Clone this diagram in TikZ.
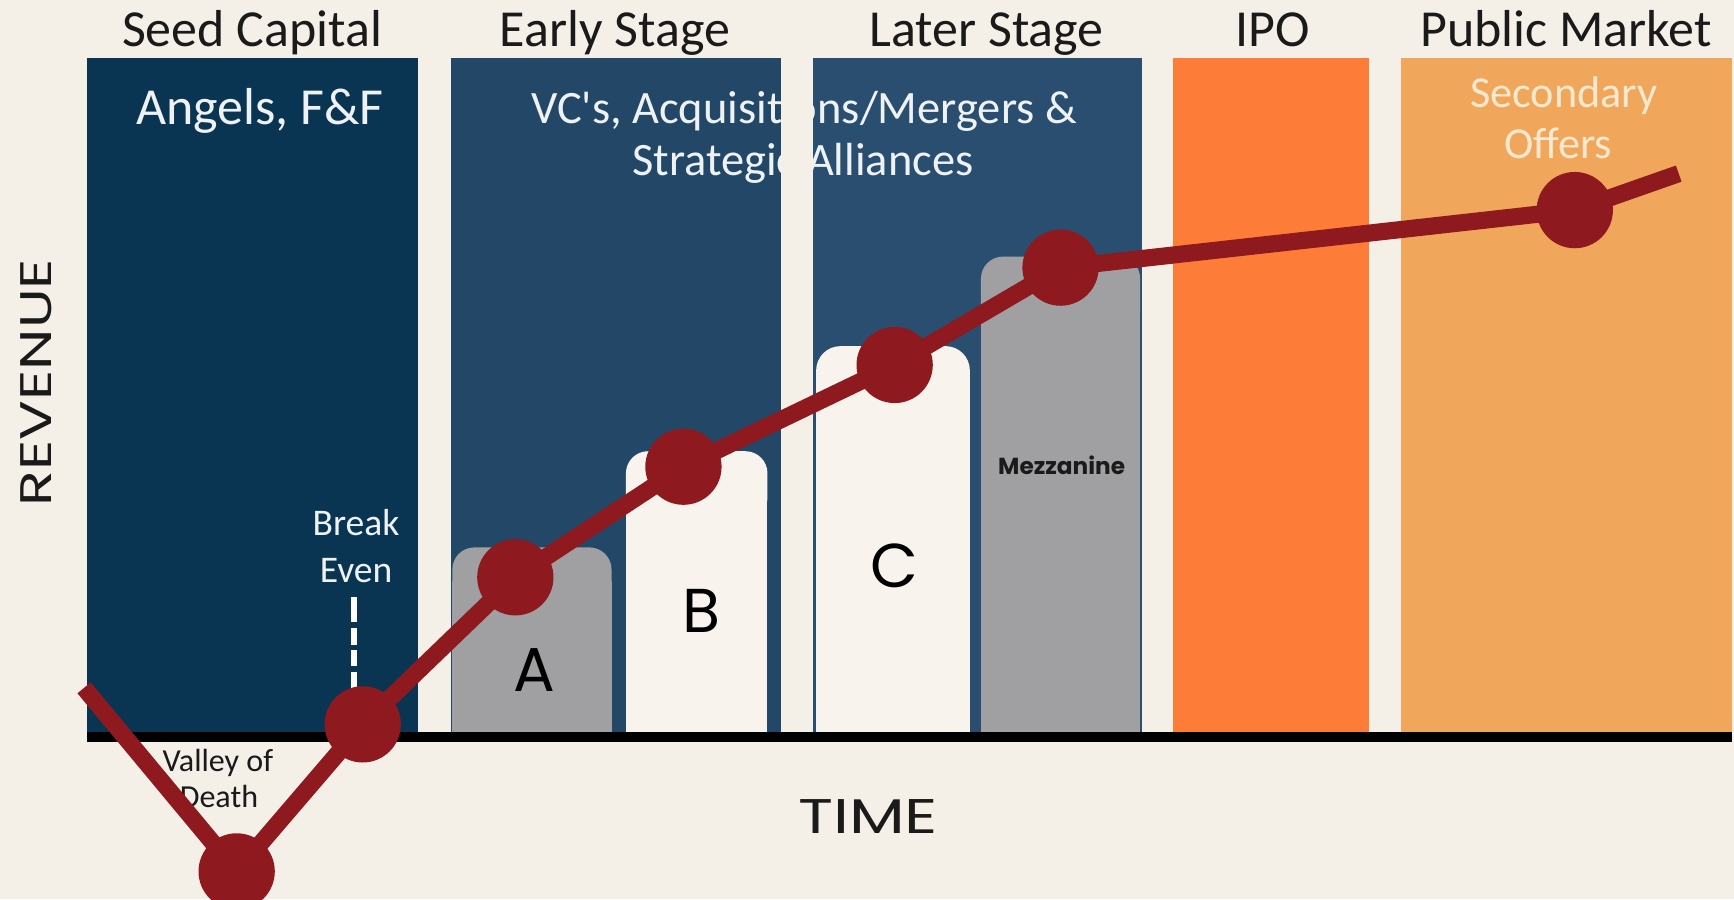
\documentclass[tikz,border=0pt]{standalone}
\usepackage{fontspec}
\setmainfont{Carlito}
\newfontfamily\geo{Poppins}
\newfontfamily\geowide{Poppins}[FakeStretch=1.33]
\definecolor{bgc}{HTML}{F4F0E8}
\definecolor{seedc}{HTML}{0A3552}
\definecolor{earlyc}{HTML}{234867}
\definecolor{laterc}{HTML}{2A4E70}
\definecolor{ipoc}{HTML}{FD7D38}
\definecolor{pubc}{HTML}{F0A75B}
\definecolor{grayc}{HTML}{A0A0A2}
\definecolor{creamc}{HTML}{F8F4ED}
\definecolor{redc}{HTML}{8E1A1F}
\definecolor{darkt}{HTML}{1A1A1A}
\definecolor{whitet}{HTML}{EEF2F4}
\definecolor{offert}{HTML}{FBE8CF}
\begin{document}
\begin{tikzpicture}[x=1pt,y=-1pt,
  lbl/.style={anchor=base,inner sep=0pt,outer sep=0pt},
  toplbl/.style={lbl,text=darkt,font=\fontsize{47}{50}\selectfont},
  intext/.style={lbl,text=whitet},
  barletter/.style={lbl,text=black,font=\geo\fontsize{56}{60}\selectfont},
  dot/.style={circle,fill=redc,minimum size=69pt,inner sep=0pt},
  redline/.style={draw=redc,line width=15.5pt,line join=round}]
\useasboundingbox (0,0) rectangle (1568,813);
\fill[bgc] (0,0) rectangle (1568,813);
% stage columns
\fill[seedc]  (79,52) rectangle (378,665);
\fill[earlyc] (408,52) rectangle (706,665);
\fill[laterc] (735,52) rectangle (1033,665);
\fill[ipoc]   (1061,52) rectangle (1238,665);
\fill[pubc]   (1267,52) rectangle (1566,665);
% stage titles
\node[toplbl] (tseed)  at (228,42) {Seed Capital};
\node[toplbl] (tearly) at (556,42) {Early Stage};
\node[toplbl] (tlater) at (892,42) {Later Stage};
\node[toplbl] (tipo)   at (1151,42) {IPO};
\node[toplbl] (tpub)   at (1416,42) {Public Market};
% texts inside columns
\node[intext,font=\fontsize{47}{50}\selectfont] (angels) at (235,113) {Angels, F\&F};
\node[intext,font=\fontsize{42}{46}\selectfont] (vc1) at (727,112) {VC\textquotesingle s, Acquisitions/Mergers \&};
\node[intext,font=\fontsize{42}{46}\selectfont] (vc2) at (726,159) {Strategic Alliances};
\fill[bgc] (706,52) rectangle (735,662);
\node[lbl,text=offert,font=\fontsize{40}{42}\selectfont] (sec1) at (1414,97) {Secondary};
\node[lbl,text=offert,font=\fontsize{40}{42}\selectfont] (sec2) at (1409,143) {Offers};
\node[intext,font=\fontsize{34}{36}\selectfont] (brk1) at (322,484) {Break};
\node[intext,font=\fontsize{34}{36}\selectfont] (brk2) at (322,527) {Even};
% funding bars
\fill[grayc,rounded corners=20pt] (409,495) rectangle (553,560);
\fill[grayc] (409,525) rectangle (553,664);
\fill[creamc,rounded corners=20pt] (566,408) rectangle (694,470);
\fill[creamc] (566,440) rectangle (694,664);
\fill[creamc,rounded corners=22pt] (738,313) rectangle (877,380);
\fill[creamc] (738,345) rectangle (877,664);
\fill[grayc,rounded corners=20pt] (887,232) rectangle (1031,300);
\fill[grayc] (887,262) rectangle (1031,664);
\node[barletter] (la) at (483,625) {A};
\node[barletter] (lb) at (634,572) {B};
\node[barletter] (lc) at (809,531) {C};
\node[lbl,text=darkt,font=\geo\bfseries\fontsize{21}{23}\selectfont] (mezz) at (960,429) {Mezzanine};
% axis
\draw[line width=9pt,black] (79,666.5) coordinate (ax0) -- (1566,666.5) coordinate (ax1);
% axis titles
\node[lbl,text=darkt,font=\geowide\fontsize{44}{46}\selectfont] (time) at (785,754) {TIME};
\node[inner sep=0pt,text=darkt,font=\geowide\fontsize{40}{44}\selectfont,rotate=90] (rev) at (33,346) {REVENUE};
\node[lbl,text=darkt,font=\fontsize{29}{31}\selectfont] (val1) at (197,698) {Valley of};
\node[lbl,text=darkt,font=\fontsize{29}{31}\selectfont] (val2) at (198,730) {Death};
% break-even marker
\coordinate (bet) at (320,540);
\coordinate (beb) at (320,625);
\draw[white,line width=6pt,dash pattern=on 22pt off 6pt on 15pt off 5pt on 14pt off 6pt on 20pt off 4pt] (bet) -- (beb);
% revenue curve
\coordinate (p0) at (76,622);
\coordinate (p1) at (214,788);
\coordinate (p2) at (328,655);
\coordinate (p3) at (466,522);
\coordinate (p4) at (618,422);
\coordinate (p5) at (809,330);
\coordinate (p6) at (959,242);
\coordinate (p7) at (1424,190);
\coordinate (p8) at (1518,157);
\draw[redline] (p0) -- (p1) -- (p2) -- (p3) -- (p4) -- (p5) -- (p6) -- (p7) -- (p8);
\node[dot] (d1) at (p1) {};
\node[dot] (d2) at (p2) {};
\node[dot] (d3) at (p3) {};
\node[dot] (d4) at (p4) {};
\node[dot] (d5) at (p5) {};
\node[dot] (d6) at (p6) {};
\node[dot] (d7) at (p7) {};
\end{tikzpicture}
\end{document}
